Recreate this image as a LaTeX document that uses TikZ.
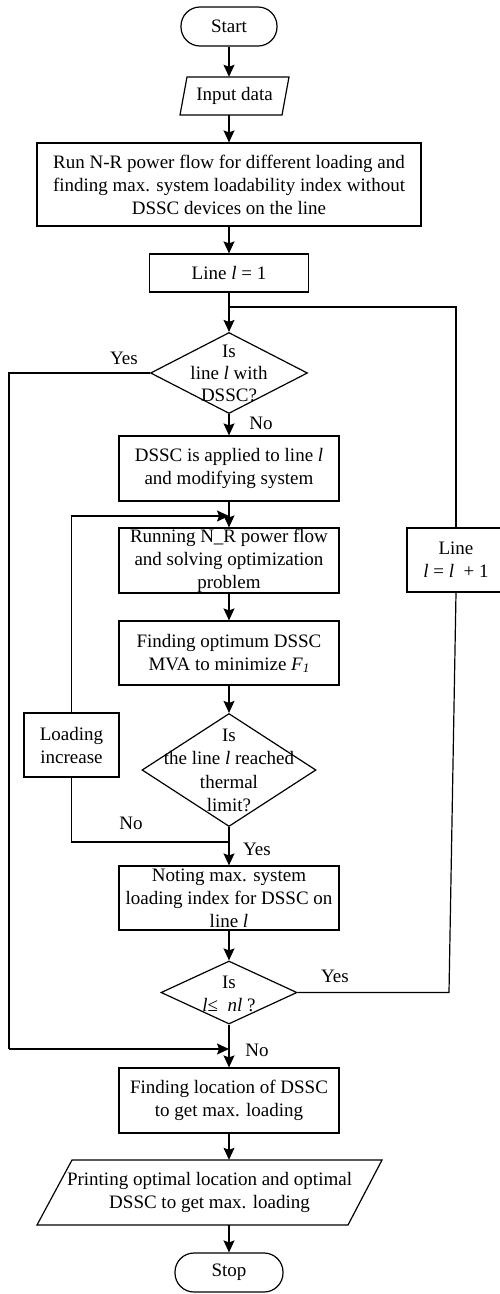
\documentclass[tikz,border=0pt]{standalone}
\usepackage{fontspec}
\setmainfont{Liberation Serif}
\usetikzlibrary{arrows.meta,shapes.geometric}
\begin{document}
\begin{tikzpicture}[x=1pt,y=-1pt,
  font=\fontsize{19}{23}\selectfont,
  every node/.style={inner sep=0pt},
  procbox/.style={draw, line width=1.2pt, align=center, minimum width=220pt, minimum height=65pt},
  termbox/.style={draw, line width=1.2pt, rounded corners=19pt, minimum width=96pt, minimum height=39pt},
  diabox/.style={draw, line width=1.2pt, diamond, inner sep=0pt},
  plaintext/.style={align=center},
  conn/.style={line width=1.2pt},
  arr/.style={line width=1.2pt, -{Stealth[length=12pt,width=11pt,inset=2pt]}}
]
\useasboundingbox (0,0) rectangle (500,1294);

% nodes
\node[termbox] (start) at (229,26.5) {Start};
\node[plaintext, minimum width=100pt, minimum height=38pt] (input) at (234.5,96) {Input data};
\draw[conn] (187,77) -- (289,77) -- (282,115) -- (180,115) -- cycle;
\node[procbox, minimum width=384pt, minimum height=83pt] (run) at (229,184.5)
  {Run N-R power flow for different loading and\\finding max. system loadability index without\\DSSC devices on the line};
\node[procbox, minimum width=159pt, minimum height=38pt] (line1) at (229,273) {Line \textit{l} = 1};
\coordinate (j1) at (229,307);
\node[diabox, minimum width=157pt, minimum height=81pt] (d1) at (229,373) {};
\node[plaintext, font=\fontsize{19}{22}\selectfont] (d1t) at (229,373) {Is\\line \textit{l} with\\DSSC?};
\node[procbox] (dssc) at (229,468.5) {DSSC is applied to line \textit{l}\\and modifying system};
\coordinate (j4) at (229,516);
\node[procbox] (run2) at (229,560.5) {Running N\_R power flow\\and solving optimization\\problem};
\node[procbox, minimum height=64pt] (opt) at (229,653)
  {Finding optimum DSSC\\MVA to minimize \textit{F}\raisebox{-2pt}{\fontsize{13}{13}\selectfont\textit{1}}};
\node[diabox, minimum width=174pt, minimum height=113pt] (d2) at (229,770) {};
\node[plaintext, font=\fontsize{19}{23.6}\selectfont] (d2t) at (229,770.5) {Is\\the line \textit{l} reached\\thermal\\limit?};
\node[procbox, minimum width=95pt, minimum height=64pt] (load) at (71.5,745) {Loading\\increase};
\coordinate (j2) at (229,842);
\node[procbox, minimum height=64pt] (noting) at (229,898)
  {Noting max. system\\loading index for DSSC on\\line \textit{l}};
\node[diabox, minimum width=136pt, minimum height=63pt] (d3) at (229,992.5) {};
\node[plaintext] (d3t) at (229,993.5) {Is\\\textit{l}≤ \ \textit{nl} ?};
\coordinate (j3) at (229,1049);
\node[procbox] (find) at (229,1100.5) {Finding location of DSSC\\to get max. loading};
\node[plaintext, minimum width=280pt, minimum height=65pt] (print) at (209.5,1192.5)
  {Printing optimal location and optimal\\DSSC to get max. loading};
\draw[conn] (72,1160) -- (382,1160) -- (348,1225) -- (37,1225) -- cycle;
\node[termbox, minimum width=108pt] (stop) at (229,1272.5) {Stop};
\node[procbox, minimum width=98pt, minimum height=64pt] (ll) at (456,560) {Line\\\textit{l} = \textit{l} \ + 1};

% helper coordinates
\coordinate (c1) at (9,373);
\coordinate (c4) at (9,1049);
\coordinate (c5) at (449,992.5);

% connectors
\draw[arr] (start.south) -- (start.south |- input.north);
\draw[arr] (start.south |- input.south) -- (run.north);
\draw[arr] (run.south) -- (line1.north);
\draw[conn] (line1.south) -- (j1);
\draw[arr] (j1) -- (d1.north);
\draw[conn] (ll.north) |- (j1);
\draw[conn] (d1.west) -- (c1) -- (c4);
\draw[arr] (c4) -- (j3);
\draw[arr] (d1.south) -- (dssc.north);
\draw[arr] (dssc.south) -- (run2.north);
\draw[arr] (load.north) |- (j4);
\draw[arr] (run2.south) -- (opt.north);
\draw[arr] (opt.south) -- (d2.north);
\draw[arr] (d2.south) -- (noting.north);
\draw[conn] (load.south) |- (j2);
\draw[arr] (noting.south) -- (d3.north);
\draw[conn] (d3.east) -- (c5) -- (ll.south);
\draw[arr] (d3.south) -- (find.north);
\draw[arr] (find.south) -- (find.south |- print.north);
\draw[arr] (find.south |- print.south) -- (stop.north);

% labels
\node (yes1) at (124,358) {Yes};
\node (no1) at (261,423) {No};
\node (no2) at (131,823) {No};
\node (yes2) at (257,849) {Yes};
\node (yes3) at (335,976) {Yes};
\node (no3) at (257,1050) {No};
\end{tikzpicture}
\end{document}
